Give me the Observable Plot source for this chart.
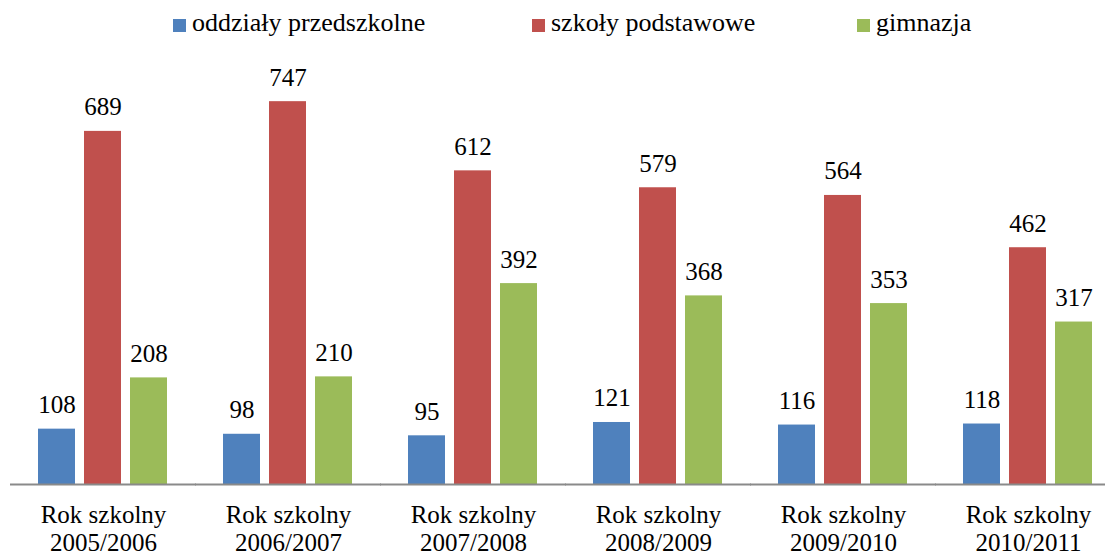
<!DOCTYPE html>
<html>
<head>
<meta charset="utf-8">
<script src="https://cdn.jsdelivr.net/npm/d3@7"></script>
<script src="https://cdn.jsdelivr.net/npm/@observablehq/plot@0.6"></script>
<style>
  html, body { margin: 0; padding: 0; background: #fff; }
  body { width: 1105px; height: 557px; overflow: hidden; font-family: "Liberation Serif", "Times New Roman", Times, "DejaVu Serif", serif; }
  #legend { position: relative; height: 45px; width: 1105px; }
  .item { position: absolute; top: 8px; display: flex; align-items: center; font-size: 26px; color: #000; white-space: nowrap; }
  .sw { width: 13px; height: 13px; margin-right: 6px; margin-top: 4px; }
</style>
</head>
<body>
<div id="legend"></div>
<div id="chart"></div>
<script>
const years = ["2005/2006", "2006/2007", "2007/2008", "2008/2009", "2009/2010", "2010/2011"];
const seriesNames = ["oddziały przedszkolne", "szkoły podstawowe", "gimnazja"];
const seriesColors = ["#4F81BD", "#C0504D", "#9BBB59"];
const przedszkolne = [108, 98, 95, 121, 116, 118];
const podstawowe = [689, 747, 612, 579, 564, 462];
const gimnazja = [208, 210, 392, 368, 353, 317];
const axisPrefix = "Rok szkolny";

const valuesBySeries = [przedszkolne, podstawowe, gimnazja];
const data = [];
years.forEach((y, i) => {
  seriesNames.forEach((s, j) => {
    data.push({year: y, series: s, value: valuesBySeries[j][i]});
  });
});

const FONT = "'Liberation Serif', 'Times New Roman', Times, 'DejaVu Serif', serif";

// legend
const legendPos = [173, 532, 857];
const legend = document.getElementById("legend");
seriesNames.forEach((s, j) => {
  const it = document.createElement("div");
  it.className = "item";
  it.style.left = legendPos[j] + "px";
  const sw = document.createElement("span");
  sw.className = "sw";
  sw.style.background = seriesColors[j];
  it.appendChild(sw);
  it.appendChild(document.createTextNode(s));
  legend.appendChild(it);
});

const chart = Plot.plot({
  width: 1105,
  height: 512,
  marginLeft: 10,
  marginRight: -15,
  marginTop: 29,
  marginBottom: 73,
  style: {fontFamily: FONT, fontSize: "25px", background: "#fff", color: "#000"},
  fx: {domain: years, paddingInner: 0.244, paddingOuter: 0.1215, axis: null},
  x: {domain: seriesNames, paddingInner: 0.19, paddingOuter: 0.097, axis: null},
  y: {domain: [0, 800], axis: null},
  color: {domain: seriesNames, range: seriesColors},
  marks: [
    Plot.barY(data, {fx: "year", x: "series", y: "value", fill: "series"}),
    Plot.ruleY([0], {stroke: "#8a8a8a", strokeWidth: 1.8, insetLeft: -23, insetRight: -23}),
    Plot.text(data, {fx: "year", x: "series", y: "value", text: d => String(d.value), lineAnchor: "bottom", dy: -16, fontSize: 25, fill: "#000"}),
    Plot.axisFx({anchor: "bottom", tickSize: 0, tickPadding: 18, fontSize: 25, lineHeight: 1.14, label: null, fill: "#000",
      tickFormat: d => axisPrefix + "\n" + d})
  ]
});
document.getElementById("chart").appendChild(chart);
</script>
</body>
</html>
